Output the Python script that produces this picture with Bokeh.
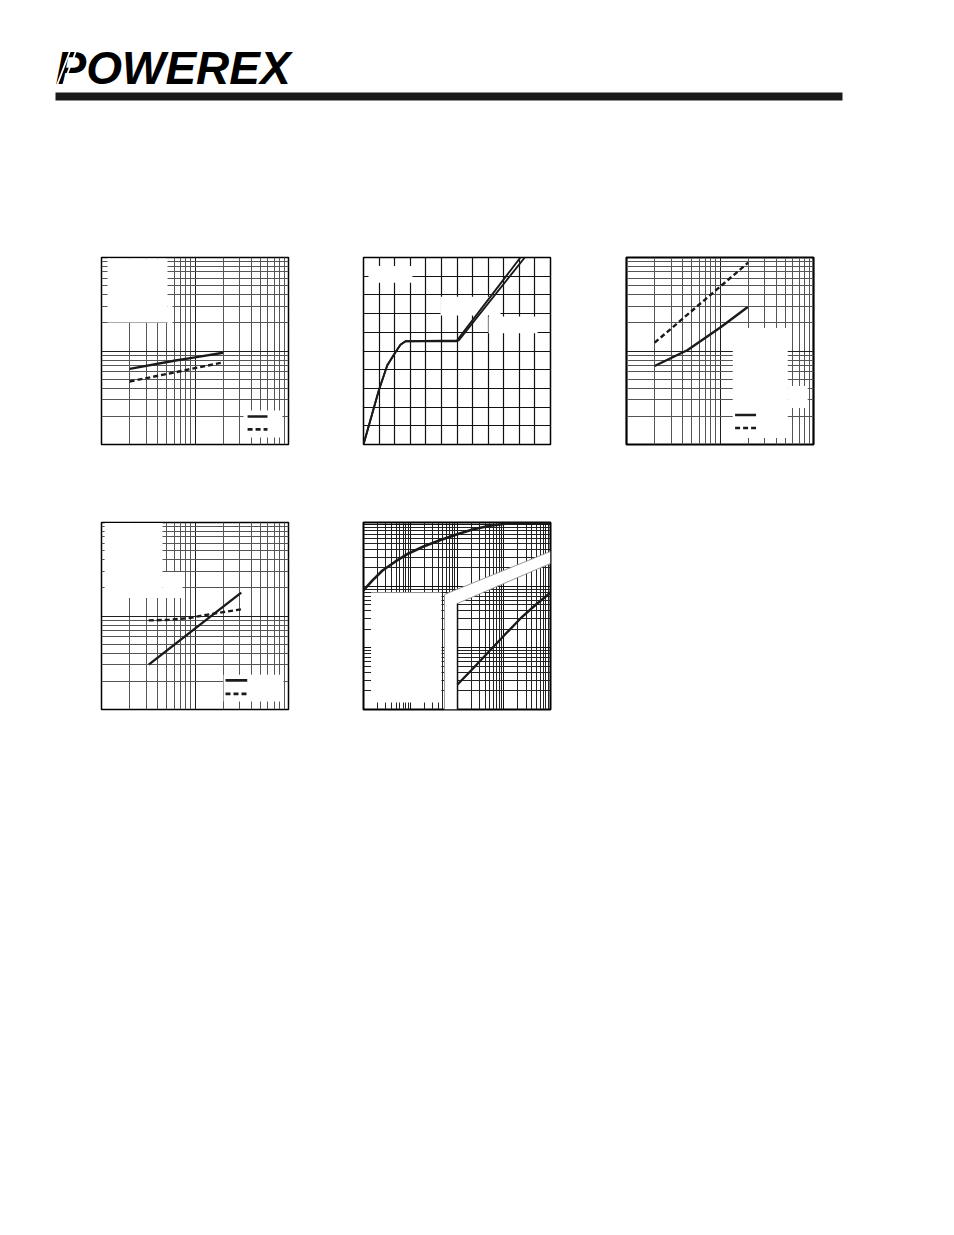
import numpy as np
from bokeh.plotting import figure
from bokeh.layouts import column, row
from bokeh.models import Range1d, Grid, FixedTicker
from bokeh.core.properties import value
from bokeh.embed import file_html
from bokeh.resources import INLINE

# ---------------- data ----------------
LOGO_TEXT = "POWEREX"

# chart 1 (log-log)
c1_x = [2.0, 6.2, 10.0, 20.0]
c1_solid = [0.645, 0.791, 0.856, 0.957]
c1_dash = [0.472, 0.593, 0.656, 0.754]

# chart 2 (linear) gate-charge style curves
c2_qa = [0, 98, 152, 205, 237, 270, 597, 1007]
c2_va = [0, 5.78, 8.45, 9.87, 10.66, 11.05, 11.05, 20.0]
c2_qb = [0, 98, 152, 205, 237, 270, 611, 1035]
c2_vb = [0, 5.78, 8.45, 9.87, 10.66, 11.05, 11.12, 20.0]

# chart 3 (log-log)
c3_xd = [2.0, 20.0]
c3_dash = [1.227, 8.8]
c3_xs = [2.0, 4.51, 10.25, 19.8]
c3_solid = [0.691, 1.025, 1.806, 2.96]

# chart 4 (log-log)
c4_xs = [3.2, 31.2]
c4_solid = [0.302, 1.78]
c4_xd = [3.2, 5.25, 8.6, 15.3, 31.2]
c4_dash = [0.897, 0.91, 0.95, 1.055, 1.18]

# chart 5 (log-log transient)
c5_t_top = [1e-5, 1.557e-5, 2.549e-5, 4.835e-5, 9.18e-5, 1.92e-4, 4.44e-4,
            9.75e-4, 2.15e-3, 4.72e-3, 1.09e-2, 2.92e-2, 1e-1]
c5_z_top = [0.0861, 0.1253, 0.182, 0.255, 0.344, 0.447, 0.570,
            0.701, 0.845, 0.963, 1.046, 1.074, 1.081]
c5_t_low = [1.025e-3, 2.15e-3, 4.72e-3, 1.04e-2, 2.28e-2, 4.77e-2, 1e-1]
c5_z_low = [2.55e-3, 4.55e-3, 8.61e-3, 1.627e-2, 3.02e-2, 0.050, 0.0798]

# masks (blank label areas) [left, right, bottom, top]
c1_masks = [[1.16, 5.08, 2.02, 9.75], [5.08, 5.74, 1.97, 3.47], [33.0, 86.0, 0.119, 0.231]]
c1_leg_x = [36.5, 59.6]
c1_leg_y = [0.199, 0.145]
c2_masks = [[32, 314, 17.3, 19.1], [494, 879, 13.8, 15.8], [802, 1117, 11.9, 13.7]]
c3_masks = [[13.7, 53.0, 0.117, 1.76], [53.0, 86.7, 0.246, 0.422]]
c3_leg_x = [14.5, 24.3]
c3_leg_y = [0.207, 0.150]
c4_masks = [[1.08, 4.49, 1.56, 9.9], [4.49, 7.35, 1.56, 2.96], [20.2, 88.5, 0.122, 0.236]]
c4_leg_x = [21.2, 36.2]
c4_leg_y = [0.205, 0.147]
c5_box = [1.45e-5, 4.66e-4, 1.3e-3, 0.08]
c5_strip_x = [5.4e-4, 5.4e-4, 1e-1, 1e-1, 1.026e-3, 1.026e-3]
c5_strip_y = [1e-3, 0.0741, 0.371, 0.237, 0.053, 1e-3]

FRAME = 187


def log_ticker(lo, hi):
    majors = [10.0 ** e for e in range(lo, hi + 1)]
    minors = [m * 10.0 ** e for e in range(lo, hi + 1) for m in range(2, 10)]
    return FixedTicker(ticks=majors, minor_ticks=minors)


def make_fig(xr, yr, xlog, ylog, bl, br, bt, bb, outline=1.5):
    p = figure(width=bl + FRAME + br, height=bt + FRAME + bb,
               x_range=Range1d(*xr), y_range=Range1d(*yr),
               x_axis_type="log" if xlog else "linear",
               y_axis_type="log" if ylog else "linear",
               x_axis_location=None, y_axis_location=None,
               toolbar_location=None, output_backend="svg",
               min_border_left=bl, min_border_right=br,
               min_border_top=bt, min_border_bottom=bb, title=None)
    p.xgrid.visible = False
    p.ygrid.visible = False
    p.outline_line_color = "black"
    p.outline_line_width = outline
    p.background_fill_color = "white"
    p.border_fill_color = "white"
    return p


def add_log_grid(p, dim, lo, hi, major="#1e1e1e", minor="#555555"):
    g = Grid(dimension=dim, ticker=log_ticker(lo, hi),
             grid_line_color=major, grid_line_width=1,
             minor_grid_line_color=minor, minor_grid_line_width=1)
    p.add_layout(g)


def add_masks(p, masks):
    for l, r, b, t in masks:
        p.quad(left=[l], right=[r], bottom=[b], top=[t],
               fill_color="white", line_color=None)


def add_legend_lines(p, xs, ys):
    p.line(xs, [ys[0], ys[0]], line_color="#1a1a1a", line_width=2.6)
    p.line(xs, [ys[1], ys[1]], line_color="#1a1a1a", line_width=2.6, line_dash="5 3")


# ---------------- header (page pixel coordinates) ----------------
hdr = figure(width=920, height=208, x_range=Range1d(0, 920), y_range=Range1d(208, 0),
             x_axis_location=None, y_axis_location=None, toolbar_location=None,
             output_backend="svg", min_border=0, title=None)
hdr.xgrid.visible = False
hdr.ygrid.visible = False
hdr.outline_line_color = None
hdr.background_fill_color = "white"
hdr.border_fill_color = "white"
hdr.text(x=[55], y=[67], text=[LOGO_TEXT], text_font=value("Liberation Sans"),
         text_font_style="bold italic", text_font_size="46px",
         text_baseline="alphabetic", text_align="left", text_color="black")
hdr.segment(x0=[56, 62], y0=[86, 86], x1=[72, 78], y1=[44, 44],
            line_color="white", line_width=1.8)
hdr.quad(left=[55], right=[842], top=[92], bottom=[100], fill_color="#1a1a1a", line_color=None)

# ---------------- chart 1 ----------------
p1 = make_fig((1, 100), (0.1, 10), True, True, 101, 37, 49, 39)
add_log_grid(p1, 0, 0, 2)
add_log_grid(p1, 1, -1, 1)
add_masks(p1, c1_masks)
p1.line(c1_x, c1_solid, line_color="#1a1a1a", line_width=2.4)
p1.line(c1_x, c1_dash, line_color="#1a1a1a", line_width=2.4, line_dash="5 3")
add_legend_lines(p1, c1_leg_x, c1_leg_y)

# ---------------- chart 2 ----------------
p2 = make_fig((0, 1200), (0, 20), False, False, 38, 37, 49, 39)
p2.add_layout(Grid(dimension=0, ticker=FixedTicker(ticks=list(range(0, 1201, 100))),
                   grid_line_color="#111111", grid_line_width=1.2))
p2.add_layout(Grid(dimension=1, ticker=FixedTicker(ticks=list(range(0, 21, 2))),
                   grid_line_color="#111111", grid_line_width=1.2))
add_masks(p2, c2_masks)
p2.line(c2_qa, c2_va, line_color="#1a1a1a", line_width=1.9)
p2.line(c2_qb, c2_vb, line_color="#1a1a1a", line_width=1.9)

# ---------------- chart 3 ----------------
p3 = make_fig((1, 100), (0.1, 10), True, True, 39, 30, 49, 39, outline=2.2)
add_log_grid(p3, 0, 0, 2)
add_log_grid(p3, 1, -1, 1)
add_masks(p3, c3_masks)
p3.line(c3_xd, c3_dash, line_color="#1a1a1a", line_width=2.4, line_dash="5 3")
p3.line(c3_xs, c3_solid, line_color="#1a1a1a", line_width=2.4)
add_legend_lines(p3, c3_leg_x, c3_leg_y)

# ---------------- chart 4 ----------------
p4 = make_fig((1, 100), (0.1, 10), True, True, 101, 37, 39, 20)
add_log_grid(p4, 0, 0, 2)
add_log_grid(p4, 1, -1, 1)
add_masks(p4, c4_masks)
p4.line(c4_xd, c4_dash, line_color="#1a1a1a", line_width=2.4, line_dash="5 3")
p4.line(c4_xs, c4_solid, line_color="#1a1a1a", line_width=2.4)
add_legend_lines(p4, c4_leg_x, c4_leg_y)

# ---------------- chart 5 ----------------
p5 = make_fig((1e-5, 1e-1), (1e-3, 10 ** 0.04), True, True, 38, 37, 39, 20, outline=2.0)
add_log_grid(p5, 0, -5, -1, major="#111111", minor="#222222")
add_log_grid(p5, 1, -3, 0, major="#111111", minor="#222222")
l, r, b, t = c5_box
p5.quad(left=[l], right=[r], bottom=[b], top=[t], fill_color="white", line_color=None)
p5.patch(c5_strip_x, c5_strip_y, fill_color="white", line_color=None)
p5.line(c5_strip_x[:3], c5_strip_y[:3], line_color="#9a9a9a", line_width=1)
p5.line(c5_strip_x[3:5], c5_strip_y[3:5], line_color="#9a9a9a", line_width=1)
p5.line(c5_strip_x[4:6], c5_strip_y[4:6], line_color="#111111", line_width=1.5)
p5.line(c5_t_top, c5_z_top, line_color="#1a1a1a", line_width=2.6)
p5.line(c5_t_low, c5_z_low, line_color="#1a1a1a", line_width=2.4)

layout = column(hdr, row(p1, p2, p3), row(p4, p5))
open("out.html", "w").write(file_html(layout, INLINE))
